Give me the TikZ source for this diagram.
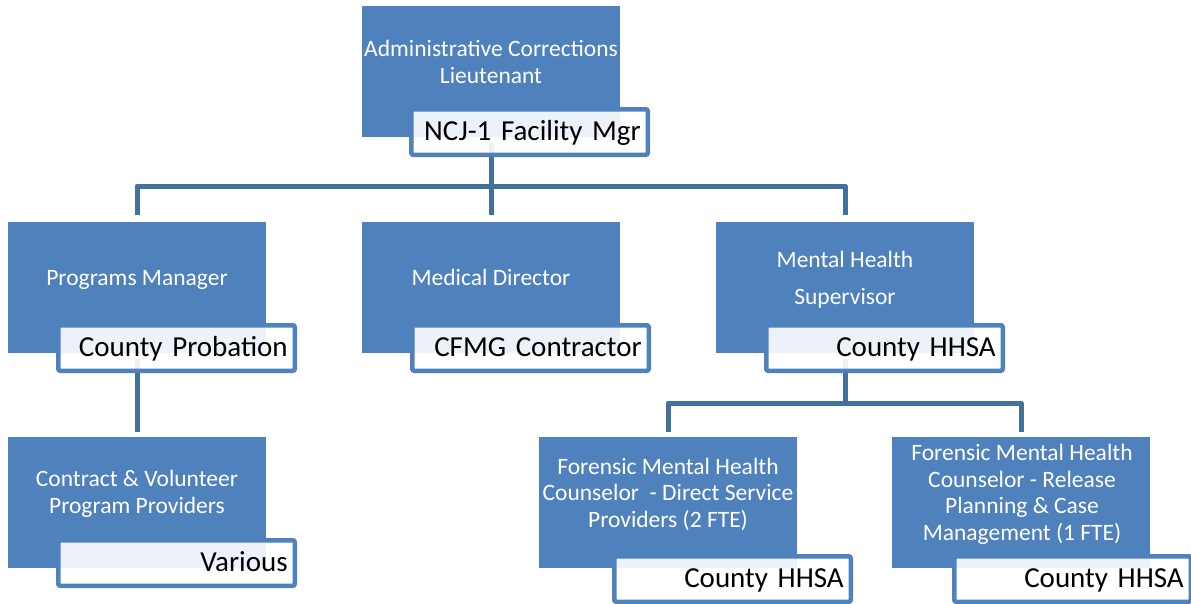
\documentclass[tikz,border=0pt]{standalone}
\usepackage{fontspec}
\setmainfont{Carlito}
\pgfdeclarelayer{bg}
\pgfsetlayers{bg,main}
\definecolor{boxblue}{HTML}{4F81BD}
\definecolor{connblue}{HTML}{41719C}
\begin{document}
\begin{tikzpicture}[x=1pt,y=-1pt,
  bbox/.style={fill=boxblue, draw=none, minimum width=258pt, minimum height=131pt,
    anchor=north west, inner sep=0pt, outer sep=0pt},
  btxt/.style={text=white, font=\fontsize{23.5}{26.5}\selectfont, align=center,
    anchor=base, inner sep=0pt},
  labbox/.style={draw=boxblue, line width=4.5pt, rounded corners=2pt, fill=white,
    fill opacity=0.9, text opacity=1, minimum width=236.5pt, minimum height=45.5pt,
    text width=222.5pt, inner xsep=7pt, inner ysep=0pt, align=right,
    text height=16pt, text depth=0pt, font=\fontsize{29}{34}\selectfont,
    anchor=north west},
  conn/.style={draw=connblue, line width=5pt, line join=round}]
\useasboundingbox (0,0) rectangle (1191,603);
\begin{pgfonlayer}{bg}
  \fill[white] (0,0) rectangle (1191,603);
\end{pgfonlayer}

% blue boxes
\node[bbox] (top) at (362,6) {};
\node[bbox] (pm) at (8,222) {};
\node[bbox] (md) at (362,222) {};
\node[bbox] (mh) at (716,222) {};
\node[bbox] (cv) at (8,437) {};
\node[bbox] (f1) at (539,437) {};
\node[bbox] (f2) at (892,437) {};

% texts in blue boxes (base anchor = baseline of the last line)
\node[btxt] (topT) at (491,83) {Administrative Corrections\\Lieutenant};
\node[btxt] (pmT) at (137,285) {Programs Manager};
\node[btxt] (mdT) at (491,285) {Medical Director};
\node[btxt] (mhT) at (845,304) {Mental Health\\[10.5pt]Supervisor};
\node[btxt] (cvT) at (137,513) {Contract \& Volunteer\\Program Providers};
\node[btxt] (f1T) at (668,527) {Forensic Mental Health\\Counselor\ \ - Direct Service\\Providers (2 FTE)};
\node[btxt] (f2T) at (1022,540) {Forensic Mental Health\\Counselor - Release\\Planning \& Case\\Management (1 FTE)};

% label boxes
\node[labbox] (topL) at (409,107) {NCJ-1 Facility Mgr};
\node[labbox] (pmL) at (56,323) {County Probation};
\node[labbox] (mdL) at (410,323) {CFMG Contractor};
\node[labbox] (mhL) at (764,323) {County HHSA};
\node[labbox] (cvL) at (56,538) {Various};
\node[labbox] (f1L) at (612,554) {County HHSA};
\node[labbox] (f2L) at (952,554) {County HHSA};

% connectors
\begin{pgfonlayer}{bg}
  \coordinate (bus1) at ([yshift=36pt]mh.north);
  \coordinate (bus2) at ([yshift=34pt]f2.north);
  \draw[conn] ([yshift=-11pt]top.south |- topL.center) -- ([yshift=7pt]md.north);
  \draw[conn] ([yshift=7pt]pm.north) |- (bus1) -- ([yshift=7pt]mh.north);
  \draw[conn] ([yshift=-11pt]pm.south |- pmL.center) -- ([yshift=5pt]cv.north);
  \draw[conn] ([yshift=-11pt]mh.south |- mhL.center) -- (mh.south |- bus2);
  \draw[conn] ([yshift=5pt]f1.north) |- (bus2) -- ([yshift=5pt]f2.north);
\end{pgfonlayer}
\end{tikzpicture}
\end{document}
